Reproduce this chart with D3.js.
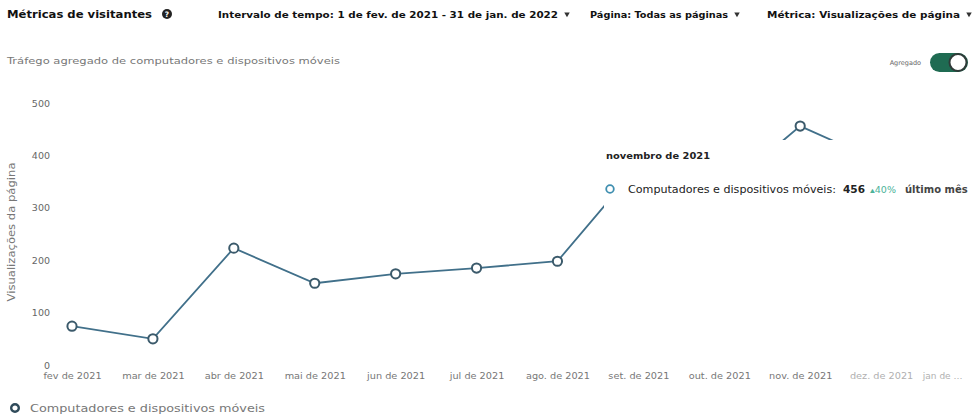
<!DOCTYPE html>
<html lang="pt-BR">
<head>
<meta charset="utf-8">
<script src="https://cdn.jsdelivr.net/npm/d3@7"></script>
<style>
  html, body { margin: 0; padding: 0; background: #fff; }
  svg { display: block; font-family: "DejaVu Sans", "Noto Sans", sans-serif; }
</style>
</head>
<body>
<svg id="chart" width="975" height="416"></svg>
<script>
// Monthly page views, desktop + mobile combined
const months = ["fev de 2021", "mar de 2021", "abr de 2021", "mai de 2021", "jun de 2021",
  "jul de 2021", "ago. de 2021", "set. de 2021", "out. de 2021", "nov. de 2021",
  "dez. de 2021", "jan de …"];
const pageViews = [74, 50, 223, 156, 174, 185, 198, 380, 326, 456, 387, 350];
const yTicks = [0, 100, 200, 300, 400, 500];
const seriesName = "Computadores e dispositivos móveis";

const svg = d3.select("#chart");
const W = 975, H = 416;

const x = d3.scalePoint().domain(months).range([72, 962]).padding(0);
const y = d3.scaleLinear().domain([0, 500]).range([365, 103]);

// stretch/squeeze a text run to a given width
const fit = (sel, w) => sel.attr("textLength", w).attr("lengthAdjust", "spacingAndGlyphs");

// ---- header controls
const head = svg.append("g").attr("font-weight", 700).attr("fill", "#111");
fit(head.append("text").attr("x", 7).attr("y", 18).attr("font-size", 11).text("Métricas de visitantes"), 145);
const help = head.append("g").attr("transform", "translate(167,14)");
help.append("circle").attr("r", 5).attr("fill", "#222");
help.append("text").attr("text-anchor", "middle").attr("y", 3).attr("font-size", 7.5)
  .attr("fill", "#fff").text("?");

const controls = [
  { x: 218, w: 340, label: "Intervalo de tempo:  1 de fev. de 2021 - 31 de jan. de 2022" },
  { x: 590, w: 138, label: "Página: Todas as páginas" },
  { x: 767, w: 193, label: "Métrica: Visualizações de página" }
];
controls.forEach(c => {
  fit(head.append("text").attr("x", c.x).attr("y", 18).attr("font-size", 9.5).text(c.label), c.w);
  head.append("path")
    .attr("d", d3.symbol(d3.symbolTriangle, 13)())
    .attr("transform", `translate(${c.x + c.w + 9},14) rotate(180)`)
    .attr("fill", "#333");
});

fit(svg.append("text").attr("x", 7).attr("y", 64).attr("font-size", 9).attr("fill", "#777")
  .text("Tráfego agregado de computadores e dispositivos móveis"), 333);

// aggregate toggle
svg.append("text").attr("x", 921).attr("y", 65).attr("text-anchor", "end")
  .attr("font-size", 6.5).attr("fill", "#666").text("Agregado");
svg.append("rect").attr("x", 930).attr("y", 53).attr("width", 38).attr("height", 19)
  .attr("rx", 9.5).attr("fill", "#1f6b52");
svg.append("circle").attr("cx", 958).attr("cy", 62.5).attr("r", 8.5)
  .attr("fill", "#fff").attr("stroke", "#2f3a38").attr("stroke-width", 2);

// ---- y axis
const yAxis = d3.axisLeft(y).tickValues(yTicks).tickSize(0).tickPadding(0);
const gy = svg.append("g").attr("transform", "translate(50,0)").call(yAxis);
gy.select(".domain").remove();
gy.selectAll("text").attr("font-size", 9.5).attr("fill", "#666")
  .attr("font-family", "'DejaVu Sans', sans-serif");

fit(svg.append("text")
  .attr("transform", "translate(15,232) rotate(-90)")
  .attr("text-anchor", "middle").attr("font-size", 10).attr("fill", "#777")
  .text("Visualizações da página"), 139);

// ---- x axis
const xAxis = d3.axisBottom(x).tickSize(0).tickPadding(0);
const gx = svg.append("g").attr("transform", "translate(0,373)").call(xAxis);
gx.select(".domain").remove();
gx.selectAll("text").attr("font-size", 9).attr("fill", (d, i) => i >= 10 ? "#b0b0b0" : "#777")
  .attr("font-family", "'DejaVu Sans', sans-serif");
gx.selectAll("text").filter((d, i) => i < 11).each(function () {
  fit(d3.select(this), this.getComputedTextLength() * 1.08);
});
// the last month label is cut short at the right edge
gx.selectAll("text").filter((d, i) => i === months.length - 1)
  .attr("text-anchor", "end").attr("x", 0);

// ---- series
const line = d3.line().x((d, i) => x(months[i])).y(d => y(d));
svg.append("path").datum(pageViews)
  .attr("d", line).attr("fill", "none")
  .attr("stroke", "#41708a").attr("stroke-width", 1.8);

svg.append("g").selectAll("circle").data(pageViews).join("circle")
  .attr("cx", (d, i) => x(months[i])).attr("cy", d => y(d)).attr("r", 4.6)
  .attr("fill", "#fff").attr("stroke", "#3b5a6b").attr("stroke-width", 2);

// ---- tooltip for November
const hi = 9;
const tip = svg.append("g");
tip.append("rect").attr("x", 604).attr("y", 140).attr("width", W - 604).attr("height", 76)
  .attr("fill", "#fff");
fit(tip.append("text").attr("x", 606).attr("y", 159).attr("font-size", 9.5).attr("font-weight", 700)
  .attr("fill", "#222").text("novembro de 2021"), 104);
tip.append("circle").attr("cx", 610).attr("cy", 189).attr("r", 3.8)
  .attr("fill", "#fff").attr("stroke", "#3f8fb0").attr("stroke-width", 1.8);
fit(tip.append("text").attr("x", 628).attr("y", 193).attr("font-size", 10).attr("fill", "#222")
  .text(`${seriesName}:`), 208);
fit(tip.append("text").attr("x", 843).attr("y", 193).attr("font-size", 10).attr("font-weight", 700)
  .attr("fill", "#222").text(pageViews[hi]), 22);
const change = Math.round((pageViews[hi] / pageViews[hi - 1] - 1) * 100);
fit(tip.append("text").attr("x", 870).attr("y", 193).attr("font-size", 8.5).attr("fill", "#4db39a")
  .text(`▴${change}%`), 26);
tip.append("text").attr("x", 905).attr("y", 193).attr("font-size", 10).attr("font-weight", 700)
  .attr("fill", "#444").text("último mês");

// ---- legend
const lg = svg.append("g").attr("transform", "translate(15,408)");
lg.append("circle").attr("r", 3.8).attr("fill", "#fff").attr("stroke", "#2f4a5a").attr("stroke-width", 2.4);
fit(lg.append("text").attr("x", 15).attr("y", 4).attr("font-size", 10.5).attr("fill", "#777")
  .text(seriesName), 235);
</script>
</body>
</html>
